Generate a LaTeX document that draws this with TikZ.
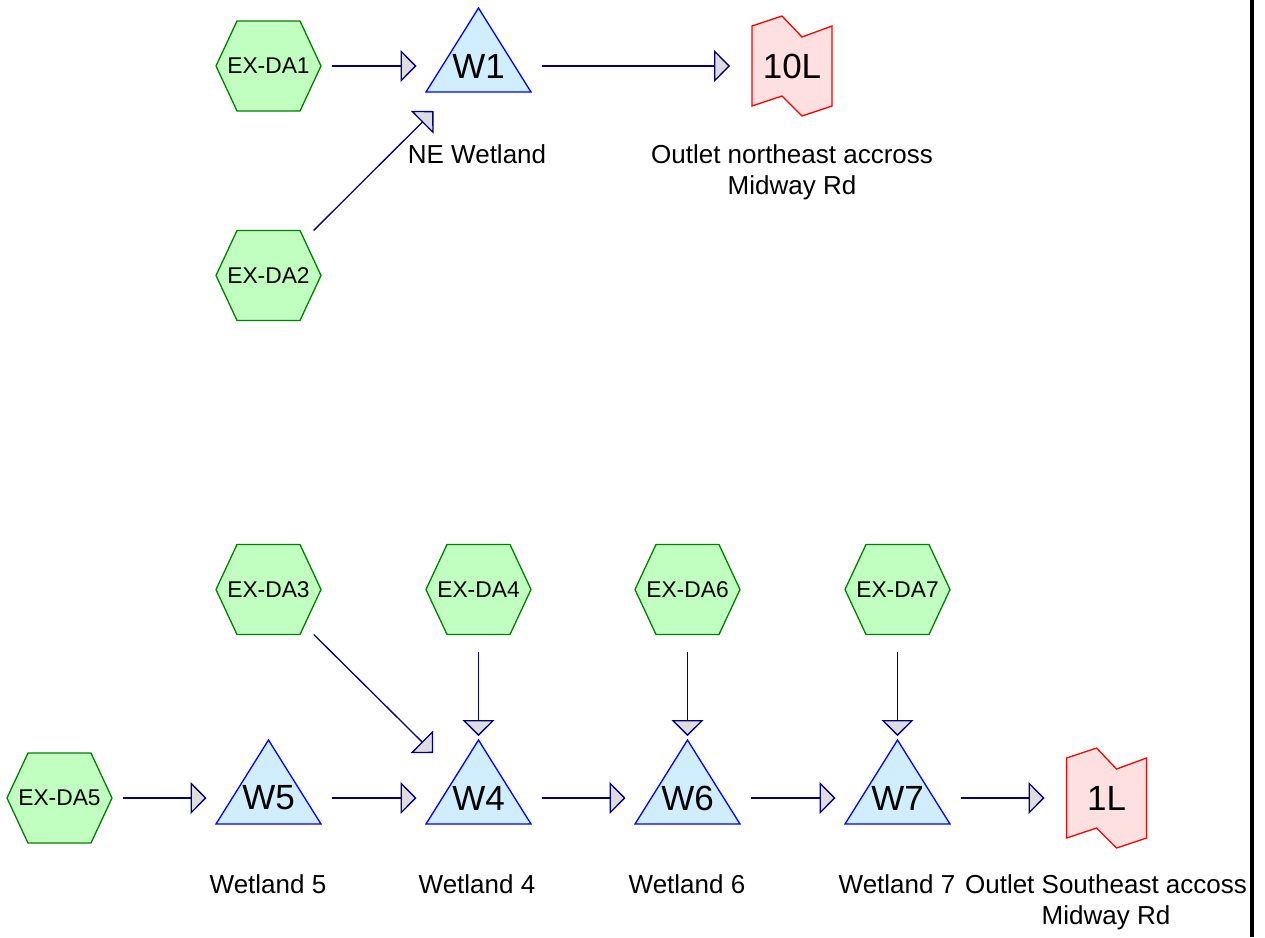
\documentclass[tikz,border=0pt]{standalone}
\usepackage{fontspec}
\setmainfont{Liberation Sans}
\usetikzlibrary{arrows.meta,backgrounds}

\definecolor{hexfill}{HTML}{C0FFC0}
\definecolor{hexline}{HTML}{008000}
\definecolor{pondfill}{HTML}{D0EEFF}
\definecolor{pondline}{HTML}{0000FF}
\definecolor{reachfill}{HTML}{FFE0E0}
\definecolor{reachline}{HTML}{FF0000}
\definecolor{flowline}{HTML}{000080}
\definecolor{headfill}{HTML}{DDDDDD}

% outlines drawn around a node's centre
\newcommand\hexagonat[1]{\draw[hexshape,shift={(#1.center)}]
  (-52.5,0) -- (-31.5,-45) -- (31.5,-45) -- (52.5,0) -- (31.5,45) -- (-31.5,45) -- cycle;}
\newcommand\pondat[1]{\draw[pondshape,shift={(#1.center)}]
  (0,-58) -- (52.5,26) -- (-52.5,26) -- cycle;}
\newcommand\reachat[1]{\draw[reachshape,shift={(#1.center)}]
  (-40,-40) -- (-10,-50) -- (10,-29) -- (40,-40) -- (40,40) -- (10,50) -- (-10,30) -- (-40,40) -- cycle;}

\begin{document}
\begin{tikzpicture}[x=1pt,y=-1pt,
  box/.style={minimum width=105pt,minimum height=90pt,inner sep=0pt,outer sep=0pt},
  subarea/.style={box,font=\fontsize{22.8}{26}\selectfont},
  pond/.style={box,font=\fontsize{35}{40}\selectfont},
  reach/.style={box,font=\fontsize{35}{40}\selectfont},
  caption/.style={anchor=base,font=\fontsize{26}{31}\selectfont,align=center,inner sep=0pt},
  flow/.style={draw=flowline,line width=1.3pt,
    -{Triangle[length=16pt,width=32pt,fill=headfill]}},
  hexshape/.style={draw=hexline,fill=hexfill,line width=1.3pt,line join=miter},
  pondshape/.style={draw=pondline,fill=pondfill,line width=1.3pt},
  reachshape/.style={draw=reachline,fill=reachfill,line width=1.3pt},
]
\useasboundingbox (0,0) rectangle (1265,937);

% upper system
\node[subarea] (da1) at (268.5,66) {EX-DA1};
\node[subarea] (da2) at (268.5,275.5) {EX-DA2};
\node[pond] (w1) at (478.5,66) {W1};
\node[reach] (r10) at (792,66) {10L};
\node[caption] (w1cap) at (477,163) {NE Wetland};
% two-line captions: the base anchor sits on the last line
\node[caption] (r10cap) at (792,194) {Outlet northeast accross\\Midway Rd};

% lower system
\node[subarea] (da3) at (268.5,589.5) {EX-DA3};
\node[subarea] (da4) at (478.5,589.5) {EX-DA4};
\node[subarea] (da6) at (687.5,589.5) {EX-DA6};
\node[subarea] (da7) at (897.5,589.5) {EX-DA7};
\node[subarea] (da5) at (59.5,798) {EX-DA5};
\node[pond] (w5) at (268.5,798) {W5};
\node[pond] (w4) at (478.5,798) {W4};
\node[pond] (w6) at (687.5,798) {W6};
\node[pond] (w7) at (897.5,798) {W7};
\node[reach] (r1) at (1106.5,798) {1L};
\node[caption] (w5cap) at (268,893) {Wetland 5};
\node[caption] (w4cap) at (477,893) {Wetland 4};
\node[caption] (w6cap) at (687,893) {Wetland 6};
\node[caption] (w7cap) at (897,893) {Wetland 7};
\node[caption] (r1cap) at (1106,924) {Outlet Southeast accoss\\Midway Rd};

\begin{scope}[on background layer]
  \foreach \n in {da1,da2,da3,da4,da5,da6,da7} {\hexagonat{\n}}
  \foreach \n in {w1,w4,w5,w6,w7} {\pondat{\n}}
  \foreach \n in {r10,r1} {\reachat{\n}}
\end{scope}

% routing
\draw[flow,shorten <=10.5pt,shorten >=9.5pt] (da1.east) -- (w1.west);
\draw[flow,shorten <=10.5pt,shorten >=9.5pt] (w1.east) -- (r10.west);
\draw[flow] (da2) -- (w1);
\draw[flow] (da3) -- (w4);
\draw[flow,shorten <=17pt,shorten >=17pt] (da4.south) -- (w4.north);
\draw[flow,shorten <=17pt,shorten >=17pt] (da6.south) -- (w6.north);
\draw[flow,shorten <=17pt,shorten >=17pt] (da7.south) -- (w7.north);
\draw[flow,shorten <=10.5pt,shorten >=9.5pt] (da5.east) -- (w5.west);
\draw[flow,shorten <=10.5pt,shorten >=9.5pt] (w5.east) -- (w4.west);
\draw[flow,shorten <=10.5pt,shorten >=9.5pt] (w4.east) -- (w6.west);
\draw[flow,shorten <=10.5pt,shorten >=9.5pt] (w6.east) -- (w7.west);
\draw[flow,shorten <=10.5pt,shorten >=9.5pt] (w7.east) -- (r1.west);

% page edge rule
\draw[line width=4pt] (1252,0) -- (1252,937);
\end{tikzpicture}
\end{document}
